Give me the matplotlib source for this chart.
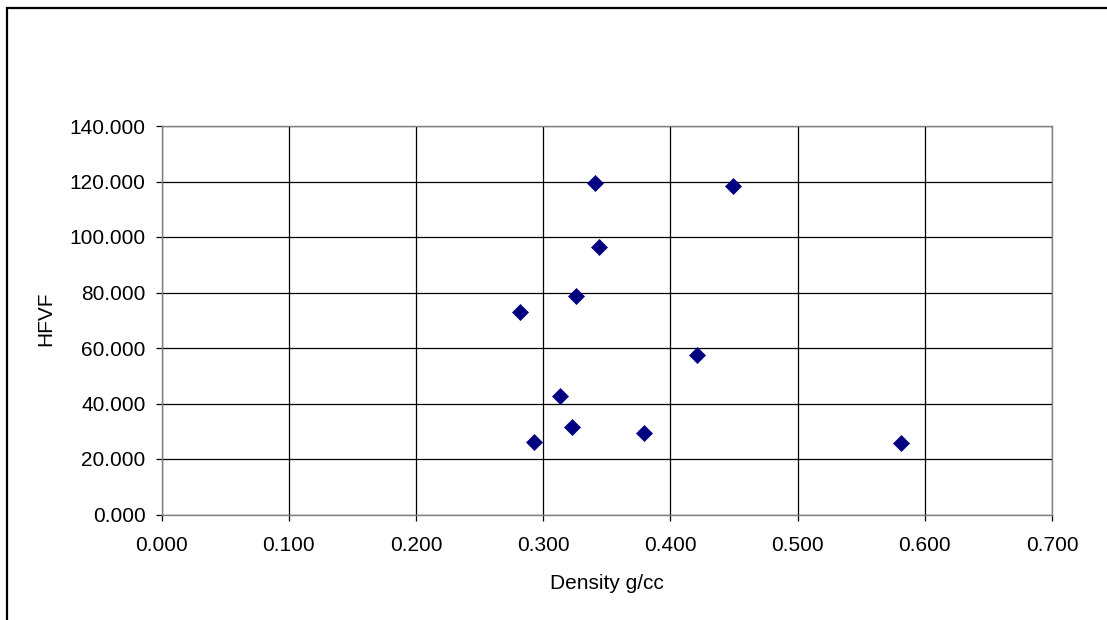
import matplotlib
matplotlib.use("Agg")
import matplotlib.pyplot as plt
from matplotlib.patches import Rectangle

density = [0.341, 0.449, 0.344, 0.326, 0.282, 0.421, 0.313, 0.323, 0.379, 0.293, 0.581]
hfvf = [119.6, 118.4, 96.5, 78.7, 73.0, 57.6, 42.7, 31.7, 29.5, 26.2, 25.8]
xticks = [0.0, 0.1, 0.2, 0.3, 0.4, 0.5, 0.6, 0.7]
yticks = [0, 20, 40, 60, 80, 100, 120, 140]

plt.rcParams['font.family'] = ['Liberation Sans', 'DejaVu Sans']

W, H = 1107, 620
fig = plt.figure(figsize=(W / 100, H / 100), dpi=100)
fig.patch.set_facecolor('white')

# outer chart frame (clipped at right and bottom)
fig.patches.append(Rectangle((6.5 / W, -0.1), 1.2, 1 - 7.5 / H + 0.1, transform=fig.transFigure,
                             fill=False, edgecolor='black', linewidth=1.6, zorder=0))

ax_l, ax_r, ax_t, ax_b = 161.5, 1052, 126, 514.5
ax = fig.add_axes([ax_l / W, 1 - ax_b / H, (ax_r - ax_l) / W, (ax_b - ax_t) / H])
ax.set_xlim(0, 0.7)
ax.set_ylim(0, 140)
ax.set_xticks(xticks)
ax.set_yticks(yticks)
ax.set_xticklabels([f"{v:.3f}" for v in xticks])
ax.set_yticklabels([f"{v:.3f}" for v in yticks])
ax.grid(True, color='black', linewidth=0.9)
ax.set_axisbelow(True)
for s in ax.spines.values():
    s.set_color('#808080')
    s.set_linewidth(1.0)
ax.tick_params(direction='out', length=4.5, width=0.9, color='black', labelsize=15)
ax.tick_params(axis='y', pad=7)
ax.tick_params(axis='x', pad=11)

ax.plot(density, hfvf, linestyle='none', marker='D', markersize=8.3, color='#000080',
        markeredgecolor='#000080', markeredgewidth=0.5, zorder=3)

ax.set_xlabel('Density g/cc', fontsize=15)
ax.xaxis.label.set_va('baseline')
ax.xaxis.set_label_coords(0.5, (ax_b - 589) / (ax_b - ax_t))
ax.set_ylabel('HFVF', fontsize=15)
ax.yaxis.label.set_va('center')
ax.yaxis.set_label_coords((45.5 - ax_l) / (ax_r - ax_l), 0.5 + (320 - 319) / (ax_b - ax_t))

fig.savefig('out.png', dpi=100, facecolor='white')
